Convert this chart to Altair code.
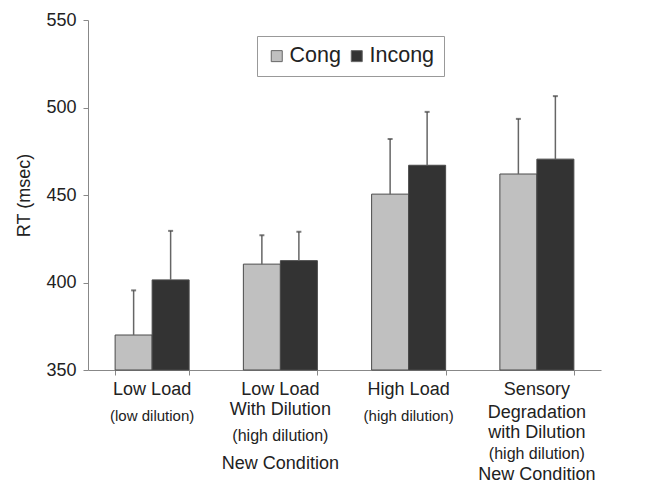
import altair as alt
import pandas as pd

categories = ["Low Load", "Low Load With Dilution", "High Load", "Sensory Degradation"]
series = ["Cong", "Incong"]
cong_rt = [370.0, 410.5, 450.5, 462.0]
incong_rt = [401.5, 412.5, 467.0, 470.5]
cong_err_top = [395.5, 427.0, 482.0, 493.5]
incong_err_top = [429.5, 429.0, 497.5, 506.5]

# x-axis label lines: (category, text, font size, line row)
label_lines = [
    ("Low Load", "Low Load", 18, 0),
    ("Low Load", "(low dilution)", 15, 1),
    ("Low Load With Dilution", "Low Load", 18, 0),
    ("Low Load With Dilution", "With Dilution", 18, 2),
    ("Low Load With Dilution", "(high dilution)", 16, 3),
    ("Low Load With Dilution", "New Condition", 18, 4),
    ("High Load", "High Load", 18, 0),
    ("High Load", "(high dilution)", 15, 1),
    ("Sensory Degradation", "Sensory", 18, 0),
    ("Sensory Degradation", "Degradation", 18, 5),
    ("Sensory Degradation", "with Dilution", 18, 6),
    ("Sensory Degradation", "(high dilution)", 16, 7),
    ("Sensory Degradation", "New Condition", 18, 8),
]
# pixel offsets of each label row below the top of the plot area
row_py = {0: 370, 1: 396, 2: 390, 3: 416, 4: 444, 5: 393, 6: 413, 7: 434, 8: 455}

rows = []
for i, c in enumerate(categories):
    rows.append({"cat": c, "series": "Cong", "rt": cong_rt[i], "err": cong_err_top[i]})
    rows.append({"cat": c, "series": "Incong", "rt": incong_rt[i], "err": incong_err_top[i]})
df = pd.DataFrame(rows)

lab = pd.DataFrame(label_lines, columns=["cat", "text", "size", "row"])

FONT = "Liberation Sans"

xenc = alt.X(
    "cat:N",
    sort=categories,
    scale=alt.Scale(paddingInner=0.423, paddingOuter=0.2115),
    axis=alt.Axis(labels=False, title=None, ticks=True, tickSize=5, tickBand="extent",
                  domainColor="#888", tickColor="#888", domainWidth=1.2),
)
xoff = alt.XOffset("series:N", sort=series, scale=alt.Scale(paddingInner=0, paddingOuter=0))
yscale = alt.Scale(domain=[350, 550], nice=False, zero=False)

base = alt.Chart(df)

bars = base.mark_bar(stroke="#4a4a4a", strokeWidth=1).encode(
    x=xenc,
    xOffset=xoff,
    y=alt.Y("rt:Q", scale=yscale,
            axis=alt.Axis(values=[350, 400, 450, 500, 550], title="RT (msec)", grid=False)),
    y2=alt.datum(350),
    color=alt.Color("series:N", sort=series,
                    scale=alt.Scale(domain=series, range=["#c0c0c0", "#333333"]),
                    legend=alt.Legend(title=None, orient="none", legendX=169, legendY=16,
                                      direction="horizontal", strokeColor="#999", padding=9,
                                      symbolType="square", symbolSize=121, symbolStrokeColor="#666",
                                      symbolStrokeWidth=1, labelFontSize=21.5, labelFont=FONT,
                                      labelColor="#222", labelOffset=2, columnPadding=5)),
)

err = base.mark_rule(color="#666", strokeWidth=1.5).encode(
    x=alt.X("cat:N", sort=categories),
    xOffset=xoff,
    y=alt.Y("rt:Q", scale=yscale),
    y2="err:Q",
)

caps = base.mark_tick(color="#444", thickness=2, size=5).encode(
    x=alt.X("cat:N", sort=categories),
    xOffset=xoff,
    y=alt.Y("err:Q", scale=yscale),
)

layers = [bars, err, caps]
for r, py in row_py.items():
    sub = lab[lab["row"] == r]
    if len(sub) == 0:
        continue
    size = float(sub["size"].iloc[0])
    layers.append(
        alt.Chart(sub).mark_text(font=FONT, fontSize=size, color="#222", baseline="middle").encode(
            x=alt.X("cat:N", sort=categories),
            y=alt.value(py),
            text="text:N",
        )
    )

chart = alt.layer(*layers).properties(
    width=513, height=350,
    autosize=alt.AutoSizeParams(type="none"),
    padding={"left": 80, "top": 12, "right": 40, "bottom": 116},
).configure_view(stroke=None).configure_axisY(
    tickSize=5, labelPadding=7, labelFontSize=18, labelColor="#222",
    labelFont=FONT, titleFont=FONT, titleFontSize=18, titleFontWeight="normal",
    titleColor="#222", titlePadding=12, domainColor="#888", tickColor="#888",
)

chart.save("out.html", embed_options={"renderer": "svg", "actions": False})
